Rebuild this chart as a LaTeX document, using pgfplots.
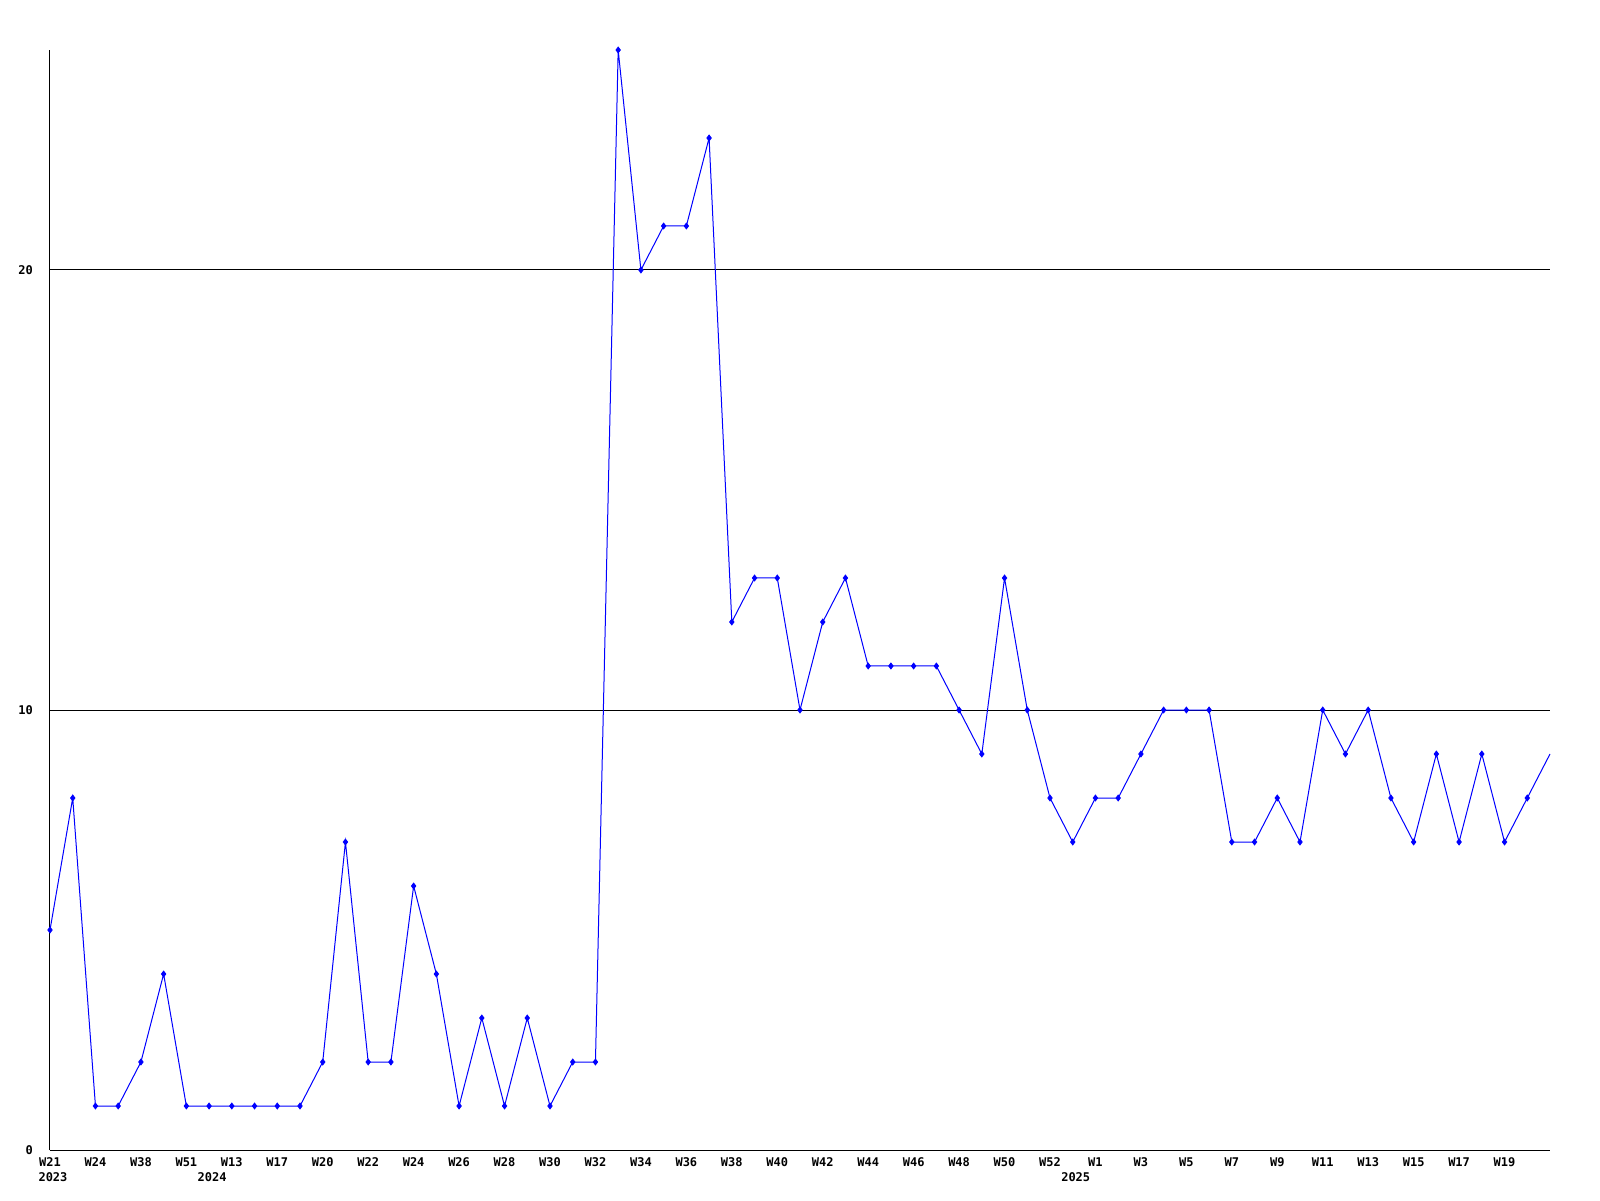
\documentclass[border=0pt]{standalone}
\usepackage{fontspec}
\setmonofont{DejaVu Sans Mono}
\usepackage{pgfplots}
\pgfplotsset{compat=1.18}
\begin{document}
\begin{tikzpicture}[x=1pt,y=1pt]
\path[use as bounding box] (0,0) rectangle (800,600);
\begin{axis}[
  at={(25pt,25pt)}, anchor=south west,
  width=750pt, height=550pt, scale only axis,
  xmin=0, xmax=66, ymin=0, ymax=25,
  axis x line=bottom, axis y line=left,
  axis line style={-, line width=0.5pt, black},
  xtick={0,2,...,64},
  xticklabels={W21,W24,W38,W51,W13,W17,W20,W22,W24,W26,W28,W30,W32,W34,W36,W38,W40,W42,W44,W46,W48,W50,W52,W1,W3,W5,W7,W9,W11,W13,W15,W17,W19},
  ytick={0,10,20},
  major tick length=0pt,
  ymajorgrids=true,
  grid style={black, line width=0.5pt},
  /pgf/number format/assume math mode=true,
  ticklabel style={font=\fontsize{6}{7}\selectfont\ttfamily\bfseries},
  xticklabel style={anchor=north, yshift=-0.5pt},
  yticklabel style={anchor=east, xshift=-5pt},
  clip=false,
]
\addplot[color={rgb,255:red,0;green,0;blue,255}, line width=0.5pt, mark=diamond*, mark size=1.4pt, mark indices={1,...,66}] coordinates {
(0,5)(1,8)(2,1)(3,1)(4,2)(5,4)(6,1)(7,1)(8,1)(9,1)(10,1)(11,1)(12,2)(13,7)(14,2)(15,2)(16,6)(17,4)(18,1)(19,3)(20,1)(21,3)(22,1)(23,2)(24,2)(25,25)(26,20)(27,21)(28,21)(29,23)(30,12)(31,13)(32,13)(33,10)(34,12)(35,13)(36,11)(37,11)(38,11)(39,11)(40,10)(41,9)(42,13)(43,10)(44,8)(45,7)(46,8)(47,8)(48,9)(49,10)(50,10)(51,10)(52,7)(53,7)(54,8)(55,7)(56,10)(57,9)(58,10)(59,8)(60,7)(61,9)(62,7)(63,9)(64,7)(65,8)(66,9)
};
\node[anchor=north, font=\fontsize{6}{7}\selectfont\ttfamily\bfseries] at (axis cs:0,0) [yshift=-8pt, xshift=1.5pt] {2023};
\node[anchor=north, font=\fontsize{6}{7}\selectfont\ttfamily\bfseries] at (axis cs:7,0) [yshift=-8pt, xshift=1.5pt] {2024};
\node[anchor=north, font=\fontsize{6}{7}\selectfont\ttfamily\bfseries] at (axis cs:45,0) [yshift=-8pt, xshift=1.5pt] {2025};
\end{axis}
\end{tikzpicture}
\end{document}
